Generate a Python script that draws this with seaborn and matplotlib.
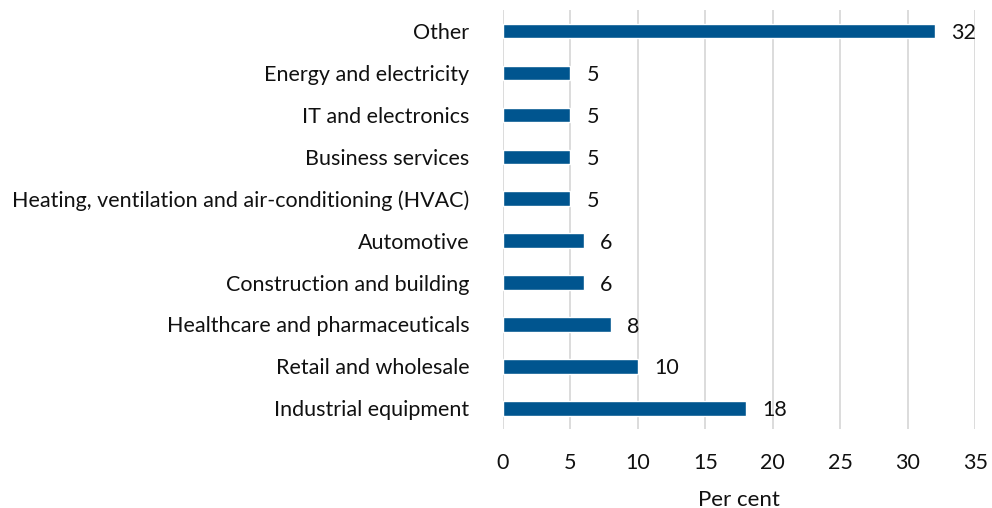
import pandas as pd
import matplotlib.pyplot as plt
import seaborn as sns

sectors = [
    "Other",
    "Energy and electricity",
    "IT and electronics",
    "Business services",
    "Heating, ventilation and air-conditioning (HVAC)",
    "Automotive",
    "Construction and building",
    "Healthcare and pharmaceuticals",
    "Retail and wholesale",
    "Industrial equipment",
]
per_cent = [32, 5, 5, 5, 5, 6, 6, 8, 10, 18]

df = pd.DataFrame({"sector": sectors, "per_cent": per_cent})

sns.set_style("white")
plt.rcParams["font.family"] = ["Lato", "DejaVu Sans"]

fig = plt.figure(figsize=(9.92, 5.08), dpi=100)
ax = fig.add_axes([0.507, 0.155, 0.476, 0.825])

sns.barplot(data=df, x="per_cent", y="sector", color="#00558f",
            width=0.35, saturation=1, ax=ax, zorder=3)

for i, v in enumerate(per_cent):
    ax.text(v + 1.2, i + 0.05, str(v), va="center", ha="left", fontsize=15.5, color="#111111")

ax.set_xlim(0, 35)
ax.set_xticks(range(0, 36, 5))
ax.grid(axis="x", color="#d9d9d9", linewidth=1.3, zorder=0)
for s in ax.spines.values():
    s.set_visible(False)
ax.tick_params(axis="y", length=0, pad=24, labelsize=15.5, labelcolor="#111111")
ax.tick_params(axis="x", length=0, pad=17, labelsize=15.5, labelcolor="#111111")
ax.set_ylabel("")
ax.set_xlabel("Per cent", fontsize=16, color="#111111", labelpad=12)

fig.savefig("out.png", dpi=100)
